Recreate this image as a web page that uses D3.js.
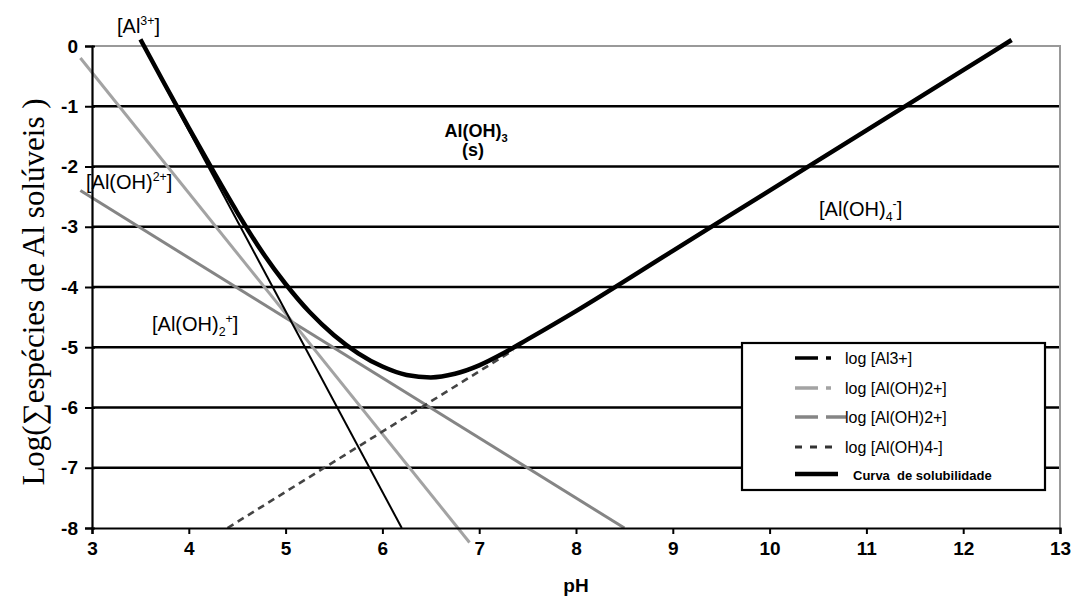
<html>
<head>
<script src="https://cdn.jsdelivr.net/npm/d3@7/dist/d3.min.js"></script>
<style>
  body { margin: 0; background: #fff; }
  text { font-family: "Liberation Sans", Arial, sans-serif; }
</style>
</head>
<body>
<script>
// axis ticks
var phTicks = [3, 4, 5, 6, 7, 8, 9, 10, 11, 12, 13];
var logTicks = [0, -1, -2, -3, -4, -5, -6, -7, -8];

// straight species lines, [pH, log] end points
var al3 = [[3.5, 0.1], [6.2, -8]];
var alOH2 = [[2.88, -0.2], [6.9, -8.24]];
var alOH2b = [[2.88, -2.4], [8.5, -8.0]];
var alOH4 = [[4.4, -8], [7.35, -5.05]];

// solubility curve
var curvePH = [3.5, 3.75, 4.0, 4.25, 4.5, 4.75, 5.0, 5.25, 5.5, 5.75, 6.0, 6.25, 6.5, 6.75, 7.0, 7.25, 7.5, 8.0, 9.0, 10.0, 11.0, 12.0, 12.5];
var curveLog = [0.11, -0.63, -1.36, -2.07, -2.76, -3.4, -3.95, -4.42, -4.8, -5.1, -5.32, -5.46, -5.5, -5.44, -5.3, -5.1, -4.87, -4.4, -3.4, -2.4, -1.4, -0.4, 0.1];

var legendLabels = ['log [Al3+]', 'log [Al(OH)2+]', 'log [Al(OH)2+]', 'log [Al(OH)4-]', 'Curva  de solubilidade'];

var W = 1082, H = 605;
var svg = d3.select('body').append('svg').attr('width', W).attr('height', H);

var x = d3.scaleLinear().domain([3, 13]).range([92, 1060]);
var y = d3.scaleLinear().domain([-8, 0]).range([528, 46]);

// grid lines
svg.append('g').selectAll('line')
   .data(logTicks.filter(function (d) { return d < 0 && d > -8; }))
   .enter().append('line')
   .attr('x1', x(3)).attr('x2', x(13))
   .attr('y1', function (d) { return y(d); })
   .attr('y2', function (d) { return y(d); })
   .style('stroke', '#000').style('stroke-width', 2.4);

// top / right border
svg.append('path')
   .attr('d', 'M' + x(3) + ',' + y(0) + 'H' + x(13) + 'V' + y(-8))
   .style('fill', 'none').style('stroke', '#999').style('stroke-width', 2);

var line = d3.line().x(function (d) { return x(d[0]); }).y(function (d) { return y(d[1]); });

svg.append('path').datum(alOH2b).attr('d', line)
   .style('fill', 'none').style('stroke', '#858585').style('stroke-width', 3);
svg.append('path').datum(alOH2).attr('d', line)
   .style('fill', 'none').style('stroke', '#a3a3a3').style('stroke-width', 3);
svg.append('path').datum(alOH4).attr('d', line)
   .style('fill', 'none').style('stroke', '#444').style('stroke-width', 2.6)
   .style('stroke-dasharray', '7,5');
svg.append('path').datum(al3).attr('d', line)
   .style('fill', 'none').style('stroke', '#000').style('stroke-width', 2);

var curve = curvePH.map(function (p, i) { return [p, curveLog[i]]; });
svg.append('path').datum(curve)
   .attr('d', d3.line().curve(d3.curveMonotoneX)
       .x(function (d) { return x(d[0]); }).y(function (d) { return y(d[1]); }))
   .style('fill', 'none').style('stroke', '#000').style('stroke-width', 4.5)
   .style('stroke-linecap', 'butt');

// axes
var tickFont = '"Liberation Sans Narrow", "Liberation Sans", Arial, sans-serif';
var xAxis = svg.append('g').attr('transform', 'translate(0,' + y(-8) + ')')
   .call(d3.axisBottom(x).tickValues(phTicks).tickSize(6).tickPadding(8).tickFormat(d3.format('d')));
var yAxis = svg.append('g').attr('transform', 'translate(' + x(3) + ',0)')
   .call(d3.axisLeft(y).tickValues(logTicks).tickSize(7).tickPadding(7).tickFormat(function (d) { return d === 0 ? '0' : '-' + Math.abs(d); }));
[xAxis, yAxis].forEach(function (a) {
    a.select('.domain').style('stroke', '#000').style('stroke-width', 2.2);
    a.selectAll('.tick line').style('stroke', '#000').style('stroke-width', 2);
    a.selectAll('.tick text').style('font-family', tickFont).style('font-size', '19px')
     .style('font-weight', 'bold').style('fill', '#000');
});
yAxis.selectAll('.tick line').attr('x2', -7).attr('x1', 3);

// axis titles
svg.append('text').attr('x', x(8)).attr('y', 592).attr('text-anchor', 'middle')
   .style('font-family', tickFont).style('font-size', '19px').style('font-weight', 'bold').text('pH');
svg.append('text').attr('transform', 'translate(44,292) rotate(-90)').attr('text-anchor', 'middle')
   .style('font-family', '"Liberation Serif", "Times New Roman", serif').style('font-size', '31px')
   .text('Log(\u2211esp\u00e9cies de Al sol\u00faveis )');

// species labels with sub / superscripts
function label(px, py, parts, size, weight, anchor) {
    var t = svg.append('text').attr('x', px).attr('y', py)
       .attr('text-anchor', anchor || 'start')
       .style('font-size', size + 'px').style('font-weight', weight || 'normal');
    var shift = 0;
    parts.forEach(function (p) {
        var target = p[1] === 'sup' ? -size * 0.4 : p[1] === 'sub' ? size * 0.25 : 0;
        t.append('tspan').attr('dy', target - shift)
         .style('font-size', p[1] ? (size * 0.62) + 'px' : size + 'px')
         .text(p[0]);
        shift = target;
    });
}
label(117, 33, [['[Al'], ['3+', 'sup'], [']']], 20);
label(86, 189, [['[Al(OH)'], ['2+', 'sup'], [']']], 20);
label(476, 137, [['Al(OH)'], ['3', 'sub']], 18, 'bold', 'middle');
label(473, 156, [['(s)']], 18, 'bold', 'middle');
label(819, 216, [['[Al(OH)'], ['4', 'sub'], ['-', 'sup'], [']']], 20);
label(152, 331, [['[Al(OH)'], ['2', 'sub'], ['+', 'sup'], [']']], 20);

// legend
var lg = svg.append('g');
lg.append('rect').attr('x', 742).attr('y', 343).attr('width', 303).attr('height', 147)
  .style('fill', '#fff').style('stroke', '#000').style('stroke-width', 2.2);
var rowsY = [358, 388, 417, 447, 474];
var samples = [
    {stroke: '#000', w: 3.5, dash: '23,8,5,100'},
    {stroke: '#a3a3a3', w: 3.5, dash: '23,8,5,100'},
    {stroke: '#858585', w: 3.5, dash: '23,8,20,100'},
    {stroke: '#333', w: 3, dash: '7,8'},
    {stroke: '#000', w: 4.5, dash: null}
];
samples.forEach(function (s, i) {
    lg.append('line').attr('x1', 795).attr('x2', i === 2 ? 846 : 838)
      .attr('y1', rowsY[i]).attr('y2', rowsY[i])
      .style('stroke', s.stroke).style('stroke-width', s.w)
      .style('stroke-dasharray', s.dash);
    lg.append('text').attr('x', i === 4 ? 853 : 845).attr('y', rowsY[i] + 6)
      .style('font-size', i === 4 ? '13px' : '16px')
      .style('font-weight', i === 4 ? 'bold' : 'normal')
      .style('white-space', 'pre')
      .text(legendLabels[i]);
});
</script>
</body>
</html>
